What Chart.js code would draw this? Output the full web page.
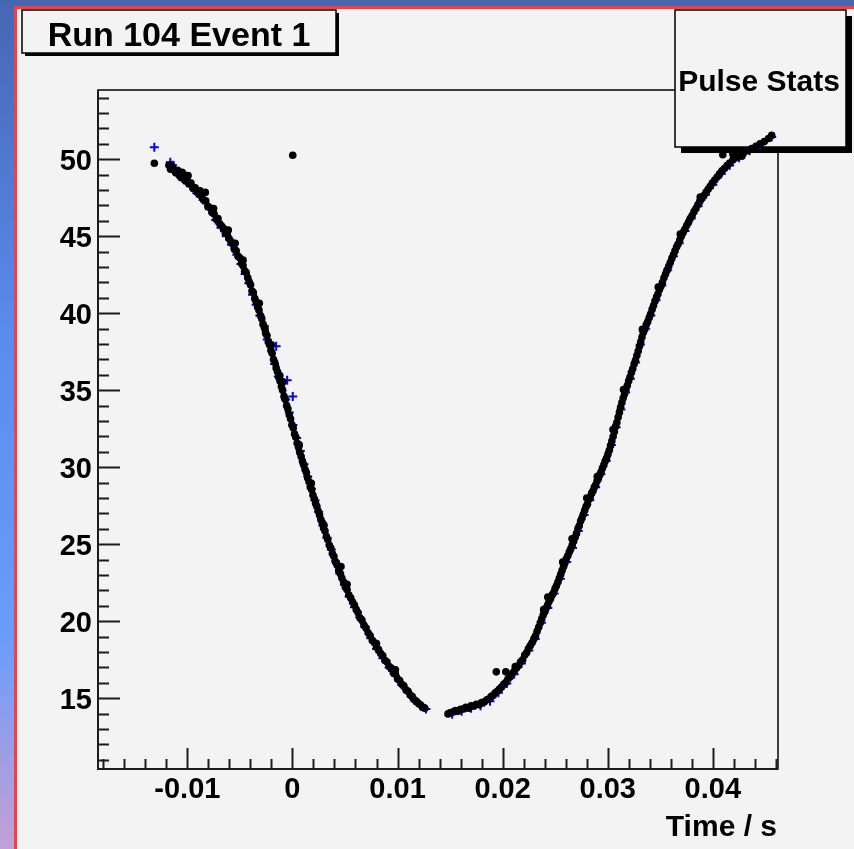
<!DOCTYPE html>
<html>
<head>
<meta charset="utf-8">
<script src="https://cdn.jsdelivr.net/npm/chart.js@4.4.1/dist/chart.umd.min.js"></script>
<style>
  html, body { margin: 0; padding: 0; background: #f3f3f3; overflow: hidden; }
  #pulse { display: block; }
</style>
</head>
<body>
<canvas id="pulse" width="854" height="849"></canvas>
<script>
// Axis ranges and tick labels
const xRange = [-0.0185, 0.0462];
const yRange = [10.4, 54.5];
const xTicks = [-0.01, 0, 0.01, 0.02, 0.03, 0.04];
const xTickLabels = ['-0.01', '0', '0.01', '0.02', '0.03', '0.04'];
const yTicks = [15, 20, 25, 30, 35, 40, 45, 50];
const yTickLabels = ['15', '20', '25', '30', '35', '40', '45', '50'];

// Measured pulse (black dots), [time, value]
const blackLeft = [
  [-0.01175, 49.62], [-0.01160, 49.35], [-0.01145, 49.55], [-0.01128, 49.30], [-0.01110, 49.12],
  [-0.01092, 49.28], [-0.01075, 48.95], [-0.01058, 48.80], [-0.01040, 49.05], [-0.01022, 48.62],
  [-0.01003, 48.70], [-0.00985, 48.40], [-0.00965, 48.45], [-0.00945, 48.10], [-0.00925, 48.15],
  [-0.00905, 47.85], [-0.00885, 47.75], [-0.00865, 47.60], [-0.00845, 47.35], [-0.00825, 47.30],
  [-0.00805, 46.95], [-0.00785, 46.85], [-0.00765, 46.55], [-0.00745, 46.45], [-0.00725, 46.10],
  [-0.00708, 46.15], [-0.00690, 45.80], [-0.00672, 45.65], [-0.00655, 45.50], [-0.00638, 45.20],
  [-0.00620, 45.15], [-0.00603, 44.85], [-0.00585, 44.65], [-0.00568, 44.50], [-0.00552, 44.15],
  [-0.00535, 44.05], [-0.00518, 43.70], [-0.00502, 43.60], [-0.00486, 43.25], [-0.00470, 43.10],
  [-0.00455, 42.75], [-0.00440, 42.65], [-0.00425, 42.30], [-0.00412, 42.05], [-0.00398, 41.85],
  [-0.00385, 41.45], [-0.00372, 41.35], [-0.00358, 40.95], [-0.00345, 40.75], [-0.00332, 40.40],
  [-0.00318, 40.20], [-0.00305, 39.85], [-0.00292, 39.65], [-0.00280, 39.30], [-0.00268, 39.10],
  [-0.00255, 38.70], [-0.00242, 38.55], [-0.00230, 38.15], [-0.00218, 37.95], [-0.00205, 37.60],
  [-0.00193, 37.40], [-0.00180, 37.00], [-0.00168, 36.80], [-0.00155, 36.45], [-0.00142, 36.20],
  [-0.00130, 35.85], [-0.00118, 35.60], [-0.00105, 35.25], [-0.00093, 35.00], [-0.00080, 34.60],
  [-0.00068, 34.40], [-0.00055, 34.00], [-0.00043, 33.80], [-0.00030, 33.40], [-0.00018, 33.15],
  [-0.00005, 32.75], [0.00008, 32.55], [0.00020, 32.15], [0.00033, 31.95], [0.00045, 31.55],
  [0.00058, 31.30], [0.00070, 30.95], [0.00083, 30.70], [0.00095, 30.40], [0.00108, 30.15],
  [0.00120, 29.85], [0.00133, 29.65], [0.00145, 29.30], [0.00158, 29.05], [0.00170, 28.75],
  [0.00183, 28.55], [0.00195, 28.20], [0.00208, 27.95], [0.00220, 27.65], [0.00233, 27.45],
  [0.00245, 27.15], [0.00258, 26.90], [0.00270, 26.60], [0.00283, 26.40], [0.00296, 26.05],
  [0.00310, 25.85], [0.00323, 25.50], [0.00336, 25.30], [0.00350, 24.95], [0.00365, 24.75],
  [0.00380, 24.40], [0.00395, 24.20], [0.00410, 23.85], [0.00425, 23.65], [0.00440, 23.30],
  [0.00455, 23.10], [0.00470, 22.80], [0.00487, 22.55], [0.00503, 22.20], [0.00520, 22.05],
  [0.00537, 21.70], [0.00555, 21.50], [0.00572, 21.25], [0.00590, 21.05], [0.00607, 20.75],
  [0.00625, 20.55], [0.00643, 20.20], [0.00662, 20.05], [0.00680, 19.75], [0.00700, 19.55],
  [0.00720, 19.25], [0.00740, 19.05], [0.00760, 18.75], [0.00780, 18.60], [0.00800, 18.30],
  [0.00820, 18.15], [0.00840, 17.90], [0.00860, 17.75], [0.00880, 17.45], [0.00900, 17.35],
  [0.00920, 17.05], [0.00940, 16.95], [0.00960, 16.65], [0.00980, 16.55], [0.01000, 16.25],
  [0.01020, 16.15], [0.01040, 15.90], [0.01060, 15.80], [0.01080, 15.55], [0.01100, 15.45],
  [0.01120, 15.20], [0.01140, 15.10], [0.01160, 14.90], [0.01180, 14.80], [0.01200, 14.65],
  [0.01220, 14.55], [0.01240, 14.40], [0.01260, 14.35]
];

const blackRight = [
  [0.01480, 13.98], [0.01500, 14.05], [0.01525, 14.10], [0.01550, 14.20], [0.01575, 14.15],
  [0.01600, 14.28], [0.01625, 14.30], [0.01650, 14.40], [0.01675, 14.35], [0.01700, 14.50],
  [0.01725, 14.48], [0.01750, 14.60], [0.01775, 14.58], [0.01800, 14.72], [0.01825, 14.75],
  [0.01850, 14.90], [0.01870, 14.95], [0.01890, 15.10], [0.01910, 15.18], [0.01930, 15.35],
  [0.01950, 15.45], [0.01970, 15.60], [0.01990, 15.72], [0.02010, 15.90], [0.02030, 16.02],
  [0.02050, 16.25], [0.02070, 16.38], [0.02090, 16.60], [0.02110, 16.75], [0.02130, 16.95],
  [0.02150, 17.10], [0.02170, 17.35], [0.02190, 17.50], [0.02210, 17.80], [0.02228, 17.95],
  [0.02245, 18.20], [0.02262, 18.40], [0.02280, 18.60], [0.02297, 18.85], [0.02313, 19.05],
  [0.02328, 19.35], [0.02343, 19.60], [0.02358, 19.90], [0.02372, 20.15], [0.02386, 20.40],
  [0.02400, 20.60], [0.02414, 20.85], [0.02428, 21.05], [0.02442, 21.30], [0.02456, 21.45],
  [0.02470, 21.70], [0.02484, 21.85], [0.02498, 22.10], [0.02512, 22.30], [0.02526, 22.55],
  [0.02540, 22.80], [0.02553, 23.05], [0.02566, 23.30], [0.02580, 23.55], [0.02593, 23.80],
  [0.02606, 24.05], [0.02620, 24.25], [0.02634, 24.50], [0.02648, 24.70], [0.02662, 24.95],
  [0.02676, 25.20], [0.02690, 25.45], [0.02703, 25.70], [0.02716, 26.00], [0.02729, 26.20],
  [0.02742, 26.50], [0.02755, 26.70], [0.02768, 26.95], [0.02781, 27.20], [0.02794, 27.45],
  [0.02807, 27.60], [0.02820, 27.90], [0.02833, 28.05], [0.02846, 28.30], [0.02859, 28.45],
  [0.02872, 28.70], [0.02885, 28.85], [0.02898, 29.10], [0.02911, 29.25], [0.02924, 29.50],
  [0.02937, 29.70], [0.02950, 29.95], [0.02963, 30.15], [0.02976, 30.40], [0.02989, 30.60],
  [0.03002, 30.85], [0.03015, 31.10], [0.03027, 31.40], [0.03039, 31.70], [0.03051, 32.00],
  [0.03063, 32.30], [0.03075, 32.65], [0.03087, 32.90], [0.03099, 33.25], [0.03111, 33.55],
  [0.03123, 33.90], [0.03135, 34.20], [0.03147, 34.50], [0.03160, 34.75], [0.03173, 35.05],
  [0.03186, 35.30], [0.03199, 35.60], [0.03212, 35.85], [0.03225, 36.15], [0.03238, 36.40],
  [0.03251, 36.70], [0.03264, 36.95], [0.03277, 37.25], [0.03290, 37.55], [0.03302, 37.85],
  [0.03314, 38.15], [0.03326, 38.45], [0.03338, 38.75], [0.03352, 38.95], [0.03366, 39.25],
  [0.03380, 39.45], [0.03394, 39.70], [0.03408, 39.95], [0.03422, 40.25], [0.03436, 40.50],
  [0.03450, 40.80], [0.03464, 41.05], [0.03478, 41.25], [0.03492, 41.55], [0.03506, 41.75],
  [0.03520, 42.00], [0.03535, 42.30], [0.03550, 42.55], [0.03565, 42.80], [0.03580, 43.05],
  [0.03595, 43.30], [0.03610, 43.55], [0.03625, 43.80], [0.03640, 44.05], [0.03655, 44.30],
  [0.03670, 44.50], [0.03685, 44.75], [0.03700, 45.00], [0.03717, 45.25], [0.03734, 45.45],
  [0.03751, 45.70], [0.03768, 45.90], [0.03785, 46.15], [0.03803, 46.35], [0.03821, 46.60],
  [0.03839, 46.80], [0.03857, 47.05], [0.03875, 47.25], [0.03895, 47.45], [0.03915, 47.65],
  [0.03935, 47.85], [0.03955, 48.05], [0.03975, 48.25], [0.03995, 48.45], [0.04018, 48.65],
  [0.04041, 48.85], [0.04064, 49.05], [0.04087, 49.25], [0.04110, 49.40], [0.04135, 49.60],
  [0.04160, 49.75], [0.04190, 49.95], [0.04220, 50.10], [0.04250, 50.25], [0.04290, 50.40],
  [0.04330, 50.55], [0.04370, 50.70], [0.04410, 50.85], [0.04450, 51.00], [0.04490, 51.15],
  [0.04530, 51.35], [0.04560, 51.55]
];

// points sitting off the main band
const blackStray = [
  [-0.01314, 49.74], [0.00003, 50.26], [-0.00829, 47.85], [-0.00993, 48.95], [-0.00545, 44.55],
  [-0.00315, 40.65], [-0.00090, 35.55], [0.00462, 23.55], [0.01940, 16.71], [0.02030, 16.71],
  [0.02429, 21.57], [0.02571, 23.84], [0.04095, 50.30], [0.04190, 50.35], [0.04276, 50.20],
  [-0.00880, 47.95], [-0.00610, 45.40], [-0.00260, 38.95], [-0.00120, 35.95], [0.00065, 31.45],
  [0.00300, 26.25], [0.00800, 18.55], [0.02390, 20.75], [0.02660, 25.35], [0.02900, 29.40],
  [0.03150, 35.05], [0.03330, 38.95], [0.03480, 41.70], [0.03690, 45.15], [0.03880, 47.55],
  [-0.01050, 49.15], [-0.00750, 46.80], [-0.00470, 43.45], [-0.00200, 37.95], [0.00180, 28.95],
  [0.00520, 22.40], [0.00980, 16.85], [0.02120, 17.05], [0.02800, 28.00], [0.03050, 32.45]
];

// Reference points (blue crosses), [time, value]
const blueLeft = [
  [-0.01314, 50.78], [-0.01162, 49.80], [-0.01140, 49.62], [-0.01090, 49.15], [-0.01030, 48.65],
  [-0.00970, 48.30], [-0.00910, 47.80], [-0.00850, 47.35], [-0.00790, 46.75], [-0.00730, 46.05],
  [-0.00680, 45.55], [-0.00630, 45.00], [-0.00580, 44.45], [-0.00530, 43.80], [-0.00490, 43.20],
  [-0.00450, 42.55], [-0.00415, 41.95], [-0.00380, 41.20], [-0.00345, 40.55], [-0.00310, 39.85],
  [-0.00267, 39.15], [-0.00240, 38.30], [-0.00155, 37.85], [-0.00170, 36.70], [-0.00135, 35.90],
  [-0.00050, 35.65], [0.00003, 34.60], [-0.00065, 34.40], [-0.00030, 33.55], [0.00005, 32.75],
  [0.00040, 31.90], [0.00075, 31.05], [0.00110, 30.20], [0.00145, 29.40], [0.00180, 28.60],
  [0.00215, 27.85], [0.00250, 27.10], [0.00290, 26.20], [0.00330, 25.40], [0.00370, 24.65],
  [0.00410, 23.90], [0.00450, 23.10], [0.00495, 22.35], [0.00540, 21.60], [0.00590, 20.90],
  [0.00640, 20.25], [0.00690, 19.60], [0.00745, 18.90], [0.00800, 18.20], [0.00860, 17.60],
  [0.00920, 17.00], [0.00980, 16.45], [0.01040, 15.85], [0.01100, 15.35], [0.01160, 14.85],
  [0.01220, 14.50], [0.01270, 14.30]
];

const blueRight = [
  [0.01520, 13.95], [0.01610, 14.15], [0.01700, 14.35], [0.01790, 14.50], [0.01880, 14.80],
  [0.01960, 15.35], [0.02040, 15.95], [0.02110, 16.55], [0.02180, 17.25], [0.02250, 18.10],
  [0.02310, 18.85], [0.02370, 19.90], [0.02430, 20.85], [0.02490, 21.80], [0.02550, 22.75],
  [0.02610, 23.85], [0.02665, 24.75], [0.02720, 25.85], [0.02775, 26.90], [0.02830, 27.85],
  [0.02885, 28.70], [0.02935, 29.55], [0.02985, 30.40], [0.03035, 31.45], [0.03080, 32.60],
  [0.03125, 33.75], [0.03170, 34.85], [0.03215, 35.75], [0.03265, 36.80], [0.03310, 37.95],
  [0.03360, 39.00], [0.03410, 39.85], [0.03460, 40.85], [0.03515, 41.80], [0.03570, 42.80],
  [0.03625, 43.70], [0.03680, 44.55], [0.03735, 45.35], [0.03795, 46.15], [0.03860, 46.95],
  [0.03930, 47.70], [0.04000, 48.35], [0.04080, 49.05], [0.04160, 49.60], [0.04250, 50.10],
  [0.04350, 50.55], [0.04450, 50.95], [0.04560, 51.45]
];

const FONT = '"Liberation Sans", Arial, Helvetica, sans-serif';
const toXY = p => ({ x: p[0], y: p[1] });

// Draws a ROOT style pave: drop shadow, light box, thin border
function pave(c, x0, y0, x1, y1, sh) {
  c.fillStyle = '#000';
  c.fillRect(x0 + sh, y0 + sh, x1 - x0, y1 - y0);
  c.fillStyle = '#f3f3f3';
  c.fillRect(x0, y0, x1 - x0, y1 - y0);
  c.strokeStyle = '#000';
  c.lineWidth = 1.5;
  c.strokeRect(x0, y0, x1 - x0, y1 - y0);
}

const rootStyle = {
  id: 'rootStyle',
  beforeDraw(chart) {
    const c = chart.ctx;
    const w = chart.width, h = chart.height;
    c.save();
    c.fillStyle = '#f3f3f3';
    c.fillRect(0, 0, w, h);
    // window decoration: blue strips with a red rim
    c.fillStyle = '#4866b0';
    c.fillRect(0, 0, w, 6);
    const g = c.createLinearGradient(0, 0, 0, h);
    g.addColorStop(0, '#4766b2');
    g.addColorStop(0.4, '#5a8cee');
    g.addColorStop(0.75, '#6a9cfa');
    g.addColorStop(1, '#c4a0d4');
    c.fillStyle = g;
    c.fillRect(0, 0, 14, h);
    c.fillStyle = '#ff3a3a';
    c.fillRect(14, 6, w - 14, 3);
    c.fillRect(14, 6, 3, h - 6);
    c.restore();
  },
  beforeDatasetsDraw(chart) {
    const { ctx: c, chartArea: a, scales: { x, y } } = chart;
    c.save();
    // frame
    c.strokeStyle = '#000';
    c.lineWidth = 1.5;
    c.strokeRect(a.left, a.top, a.right - a.left, a.bottom - a.top);
    c.lineWidth = 2;
    c.strokeStyle = '#1c1c1c';
    c.beginPath();
    c.moveTo(a.left, a.top);
    c.lineTo(a.left, a.bottom);
    c.lineTo(a.right, a.bottom);
    c.stroke();

    // tick marks point into the frame
    c.beginPath();
    for (let v = Math.ceil(yRange[0]); v <= yRange[1]; v++) {
      const py = Math.round(y.getPixelForValue(v)) + 0.5;
      const len = yTicks.includes(v) ? 22 : 11;
      c.moveTo(a.left, py);
      c.lineTo(a.left + len, py);
    }
    for (let k = -9; k <= 23; k++) {
      const px = Math.round(x.getPixelForValue(k * 0.002)) + 0.5;
      const len = k % 5 === 0 ? 21 : 10;
      c.moveTo(px, a.bottom);
      c.lineTo(px, a.bottom - len);
    }
    c.stroke();

    // title and stats panes
    pave(c, 22, 10, 336, 53, 3);
    pave(c, 675, 10, 846, 147, 6);
    c.fillStyle = '#000';
    c.textBaseline = 'alphabetic';
    c.textAlign = 'center';
    c.font = 'bold 34px ' + FONT;
    c.fillText('Run 104 Event 1', 179, 46);
    c.font = 'bold 30px ' + FONT;
    c.fillText('Pulse Stats', 759, 91);
    c.textAlign = 'right';
    c.fillText('Time / s', 777, 836);
    c.restore();
  }
};

const ctx = document.getElementById('pulse').getContext('2d');
const pulseChart = new Chart(ctx, {
  type: 'scatter',
  plugins: [rootStyle],
  data: {
    datasets: [
      {
        label: 'pulse',
        data: blackLeft.concat(blackRight, blackStray).map(toXY),
        pointStyle: 'circle',
        pointRadius: 3.8,
        backgroundColor: '#000',
        borderColor: '#000',
        borderWidth: 0
      },
      {
        label: 'reference',
        data: blueLeft.concat(blueRight).map(toXY),
        pointStyle: 'cross',
        pointRadius: 4.5,
        borderColor: '#0000ff',
        borderWidth: 2
      }
    ]
  },
  options: {
    responsive: false,
    animation: false,
    devicePixelRatio: 1,
    layout: { padding: { left: 0, top: 90, right: 76, bottom: 0 } },
    plugins: {
      legend: { display: false },
      tooltip: { enabled: false }
    },
    scales: {
      x: {
        type: 'linear',
        min: xRange[0],
        max: xRange[1],
        grid: { display: false, drawTicks: false },
        border: { display: false },
        afterBuildTicks: s => { s.ticks = xTicks.map(v => ({ value: v })); },
        afterFit: s => { s.height = 80; },
        ticks: {
          autoSkip: false,
          maxRotation: 0,
          padding: 4,
          color: '#000',
          font: { family: FONT, size: 29, weight: 'bold' },
          callback: (v, i) => xTickLabels[i]
        }
      },
      y: {
        type: 'linear',
        min: yRange[0],
        max: yRange[1],
        grid: { display: false, drawTicks: false },
        border: { display: false },
        afterBuildTicks: s => { s.ticks = yTicks.map(v => ({ value: v })); },
        afterFit: s => { s.width = 98; },
        ticks: {
          autoSkip: false,
          padding: 6,
          labelOffset: 3,
          color: '#000',
          font: { family: FONT, size: 29, weight: 'bold' },
          callback: (v, i) => yTickLabels[i]
        }
      }
    }
  }
});
</script>
</body>
</html>
